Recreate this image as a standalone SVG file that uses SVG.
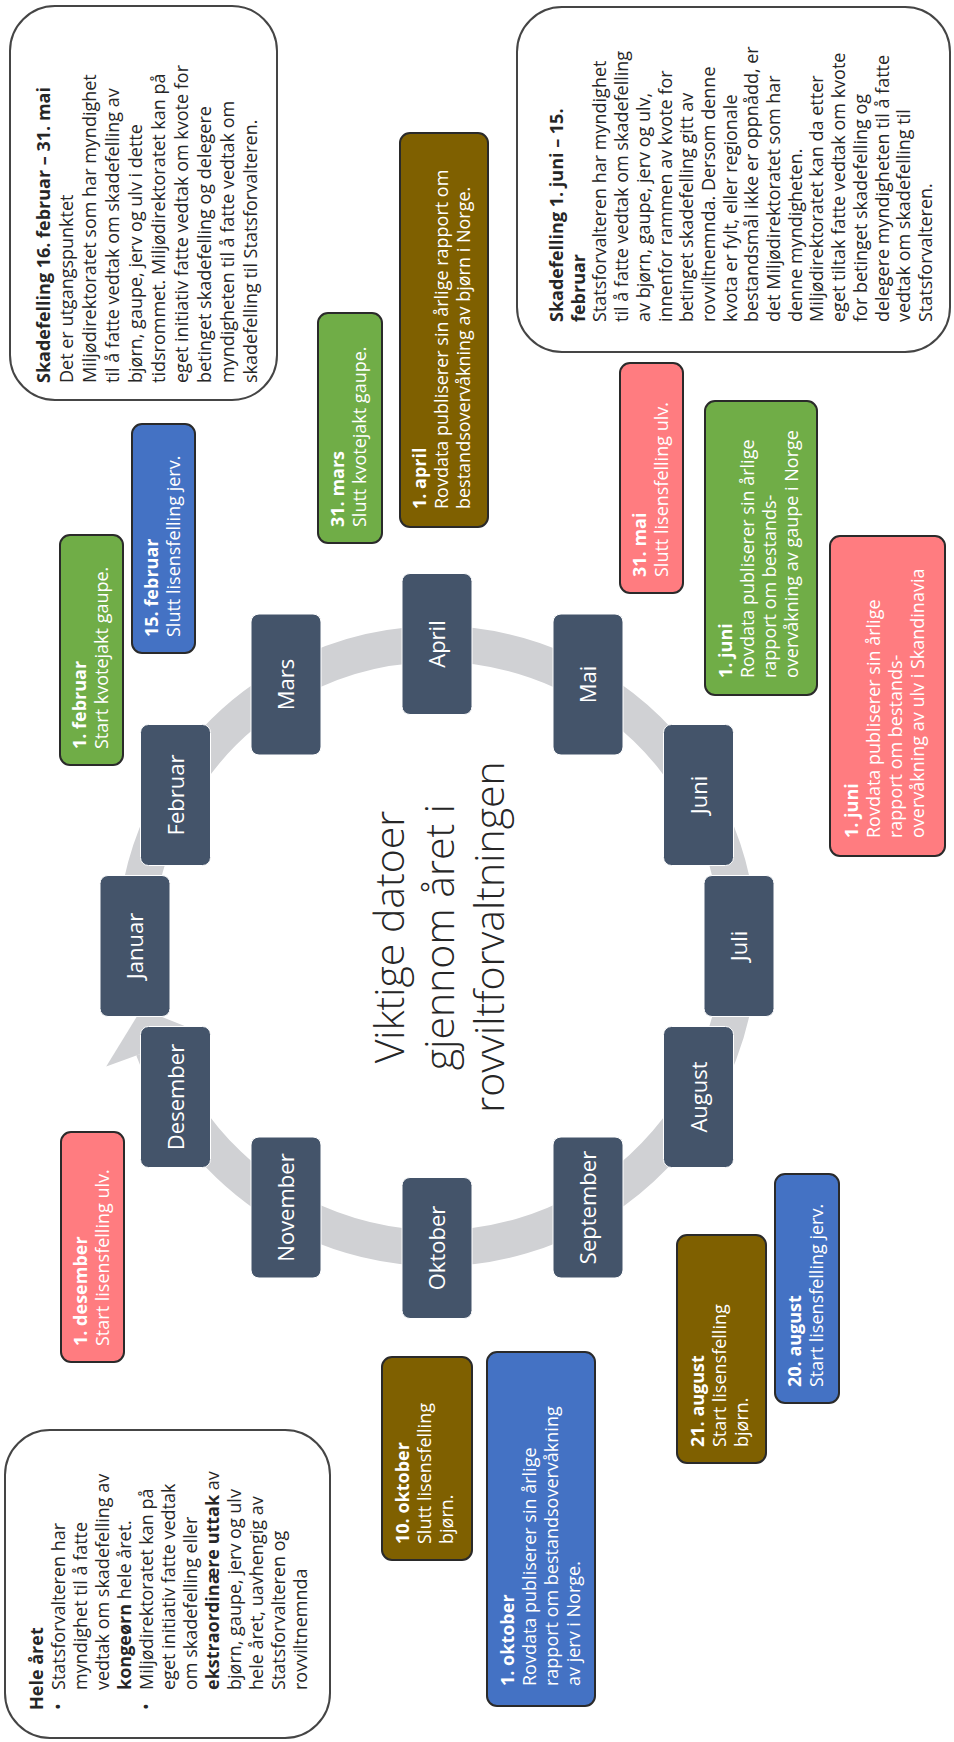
<svg xmlns="http://www.w3.org/2000/svg" width="954" height="1742" viewBox="0 0 954 1742">
<style>
text{font-family:"Open Sans","Liberation Sans",sans-serif}
.ev{font-size:18px;fill:#ffffff}
.tx{font-size:18px;fill:#262626}
.b{font-weight:700}
.e{stroke:#2a2a2a;stroke-width:2}
.green{fill:#70AD47}
.blue{fill:#4472C4}
.pink{fill:#FF7C80}
.brown{fill:#7F6000}
.wb{fill:#ffffff;stroke:#454545;stroke-width:2}
.m{fill:#44546A;stroke:#ffffff;stroke-width:1}
.mt{font-size:22px;fill:#ffffff;text-anchor:middle}
.title{font-size:41px;font-weight:300;fill:#262626;text-anchor:middle}
</style>
<rect width="954" height="1742" fill="#ffffff"/>
<g transform="translate(0,1742) rotate(-90)">
<g id="connectors">
<path d="M 806.5 135.2 A 302 302 0 1 1 692.7 153.2" fill="none" stroke="#D0D1D4" stroke-width="36"/>
<polygon points="709.8,200.2 675.6,106.2 733.2,141.6" fill="#D0D1D4"/>
</g>
<g id="title"><text class="title"><tspan x="805" y="404">Viktige datoer</tspan><tspan x="805" y="454">gjennom året i</tspan><tspan x="805" y="504">rovviltforvaltningen</tspan></text></g>
<g id="m-jan"><rect class="m" x="725.5" y="100" width="141" height="70" rx="8"/><text class="mt" x="796" y="143">Januar</text></g>
<g id="m-feb"><rect class="m" x="876.5" y="140.5" width="141" height="70" rx="8"/><text class="mt" x="947" y="183.5">Februar</text></g>
<g id="m-mar"><rect class="m" x="987" y="251" width="141" height="70" rx="8"/><text class="mt" x="1057.5" y="294">Mars</text></g>
<g id="m-apr"><rect class="m" x="1027.5" y="402" width="141" height="70" rx="8"/><text class="mt" x="1098" y="445">April</text></g>
<g id="m-mai"><rect class="m" x="987" y="553" width="141" height="70" rx="8"/><text class="mt" x="1057.5" y="596">Mai</text></g>
<g id="m-jun"><rect class="m" x="876.5" y="663.5" width="141" height="70" rx="8"/><text class="mt" x="947" y="706.5">Juni</text></g>
<g id="m-jul"><rect class="m" x="725.5" y="704" width="141" height="70" rx="8"/><text class="mt" x="796" y="747">Juli</text></g>
<g id="m-aug"><rect class="m" x="574.5" y="663.5" width="141" height="70" rx="8"/><text class="mt" x="645" y="706.5">August</text></g>
<g id="m-sep"><rect class="m" x="464" y="553" width="141" height="70" rx="8"/><text class="mt" x="534.5" y="596">September</text></g>
<g id="m-okt"><rect class="m" x="423.5" y="402" width="141" height="70" rx="8"/><text class="mt" x="494" y="445">Oktober</text></g>
<g id="m-nov"><rect class="m" x="464" y="251" width="141" height="70" rx="8"/><text class="mt" x="534.5" y="294">November</text></g>
<g id="m-des"><rect class="m" x="574.5" y="140.5" width="141" height="70" rx="8"/><text class="mt" x="645" y="183.5">Desember</text></g>

<g id="ev-1feb"><rect class="e green" x="977" y="60" width="230" height="63" rx="10"/><text class="ev" x="993" y="86"><tspan class="b">1. februar</tspan><tspan x="993" dy="22">Start kvotejakt gaupe.</tspan></text></g>
<g id="ev-15feb"><rect class="e blue" x="1089" y="132" width="229" height="63" rx="10"/><text class="ev" x="1105" y="158"><tspan class="b">15. februar</tspan><tspan x="1105" dy="22">Slutt lisensfelling jerv.</tspan></text></g>
<g id="ev-31mars"><rect class="e green" x="1199" y="318" width="230" height="64" rx="10"/><text class="ev" x="1215" y="344"><tspan class="b">31. mars</tspan><tspan x="1215" dy="22">Slutt kvotejakt gaupe.</tspan></text></g>
<g id="ev-1april"><rect class="e brown" x="1215" y="400" width="394" height="88" rx="10"/><text class="ev" x="1233" y="426"><tspan class="b">1. april</tspan><tspan x="1233" dy="22">Rovdata publiserer sin årlige rapport om</tspan><tspan x="1233" dy="22">bestandsovervåkning av bjørn i Norge.</tspan></text></g>
<g id="ev-31mai"><rect class="e pink" x="1149" y="620" width="230" height="63" rx="10"/><text class="ev" x="1165" y="646"><tspan class="b">31. mai</tspan><tspan x="1165" dy="22">Slutt lisensfelling ulv.</tspan></text></g>
<g id="ev-1juni-gaupe"><rect class="e green" x="1047" y="705" width="294" height="112" rx="10"/><text class="ev" x="1064" y="732"><tspan class="b">1. juni</tspan><tspan x="1064" dy="22">Rovdata publiserer sin årlige</tspan><tspan x="1064" dy="22">rapport om bestands-</tspan><tspan x="1064" dy="22">overvåkning av gaupe i Norge</tspan></text></g>
<g id="ev-1juni-ulv"><rect class="e pink" x="886" y="830" width="320" height="115" rx="10"/><text class="ev" x="904" y="858"><tspan class="b">1. juni</tspan><tspan x="904" dy="22">Rovdata publiserer sin årlige</tspan><tspan x="904" dy="22">rapport om bestands-</tspan><tspan x="904" dy="22">overvåkning av ulv i Skandinavia</tspan></text></g>
<g id="ev-1des"><rect class="e pink" x="380" y="61" width="230" height="63" rx="10"/><text class="ev" x="396" y="87"><tspan class="b">1. desember</tspan><tspan x="396" dy="22">Start lisensfelling ulv.</tspan></text></g>
<g id="ev-10okt"><rect class="e brown" x="182" y="382" width="203" height="90" rx="10"/><text class="ev" x="198" y="409"><tspan class="b">10. oktober</tspan><tspan x="198" dy="22">Slutt lisensfelling</tspan><tspan x="198" dy="22">bjørn.</tspan></text></g>
<g id="ev-1okt"><rect class="e blue" x="36" y="487" width="354" height="108" rx="10"/><text class="ev" x="56" y="514"><tspan class="b">1. oktober</tspan><tspan x="56" dy="22">Rovdata publiserer sin årlige</tspan><tspan x="56" dy="22">rapport om bestandsovervåkning</tspan><tspan x="56" dy="22">av jerv i Norge.</tspan></text></g>
<g id="ev-21aug"><rect class="e brown" x="279" y="677" width="228" height="89" rx="10"/><text class="ev" x="295" y="704"><tspan class="b">21. august</tspan><tspan x="295" dy="22">Start lisensfelling</tspan><tspan x="295" dy="22">bjørn.</tspan></text></g>
<g id="ev-20aug"><rect class="e blue" x="339" y="775" width="229" height="64" rx="10"/><text class="ev" x="355" y="801"><tspan class="b">20. august</tspan><tspan x="355" dy="22">Start lisensfelling jerv.</tspan></text></g>

<g id="box-hele"><rect class="wb" x="4" y="5" width="308" height="325" rx="45"/><text class="tx" x="32" y="43"><tspan class="b">Hele året</tspan><tspan x="32" dy="22">•</tspan><tspan x="52">Statsforvalteren har</tspan><tspan x="52" dy="22">myndighet til å fatte</tspan><tspan x="52" dy="22">vedtak om skadefelling av</tspan><tspan x="52" dy="22" class="b">kongeørn</tspan><tspan> hele året.</tspan><tspan x="32" dy="22">•</tspan><tspan x="52">Miljødirektoratet kan på</tspan><tspan x="52" dy="22">eget initiativ fatte vedtak</tspan><tspan x="52" dy="22">om skadefelling eller</tspan><tspan x="52" dy="22" class="b">ekstraordinære uttak</tspan><tspan> av</tspan><tspan x="52" dy="22">bjørn, gaupe, jerv og ulv</tspan><tspan x="52" dy="22">hele året, uavhengig av</tspan><tspan x="52" dy="22">Statsforvalteren og</tspan><tspan x="52" dy="22">rovviltnemnda</tspan></text></g>

<g id="box-skad16"><rect class="wb" x="1342" y="10" width="394" height="267" rx="45"/><text class="tx" x="1359" y="50"><tspan class="b">Skadefelling 16. februar – 31. mai</tspan><tspan x="1359" dy="23">Det er utgangspunktet</tspan><tspan x="1359" dy="23">Miljødirektoratet som har myndighet</tspan><tspan x="1359" dy="23">til å fatte vedtak om skadefelling av</tspan><tspan x="1359" dy="23">bjørn, gaupe, jerv og ulv i dette</tspan><tspan x="1359" dy="23">tidsrommet. Miljødirektoratet kan på</tspan><tspan x="1359" dy="23">eget initiativ fatte vedtak om kvote for</tspan><tspan x="1359" dy="23">betinget skadefelling og delegere</tspan><tspan x="1359" dy="23">myndigheten til å fatte vedtak om</tspan><tspan x="1359" dy="23">skadefelling til Statsforvalteren.</tspan></text></g>

<g id="box-skad1juni"><rect class="wb" x="1390" y="517" width="345" height="433" rx="45"/><text class="tx" x="1420" y="563"><tspan class="b">Skadefelling 1. juni – 15.</tspan><tspan x="1420" dy="21.7" class="b">februar</tspan><tspan x="1420" dy="21.7">Statsforvalteren har myndighet</tspan><tspan x="1420" dy="21.7">til å fatte vedtak om skadefelling</tspan><tspan x="1420" dy="21.7">av bjørn, gaupe, jerv og ulv,</tspan><tspan x="1420" dy="21.7">innenfor rammen av kvote for</tspan><tspan x="1420" dy="21.7">betinget skadefelling gitt av</tspan><tspan x="1420" dy="21.7">rovviltnemnda. Dersom denne</tspan><tspan x="1420" dy="21.7">kvota er fylt, eller regionale</tspan><tspan x="1420" dy="21.7">bestandsmål ikke er oppnådd, er</tspan><tspan x="1420" dy="21.7">det Miljødirektoratet som har</tspan><tspan x="1420" dy="21.7">denne myndigheten.</tspan><tspan x="1420" dy="21.7">Miljødirektoratet kan da etter</tspan><tspan x="1420" dy="21.7">eget tiltak fatte vedtak om kvote</tspan><tspan x="1420" dy="21.7">for betinget skadefelling og</tspan><tspan x="1420" dy="21.7">delegere myndigheten til å fatte</tspan><tspan x="1420" dy="21.7">vedtak om skadefelling til</tspan><tspan x="1420" dy="21.7">Statsforvalteren.</tspan></text></g>
</g>
</svg>
